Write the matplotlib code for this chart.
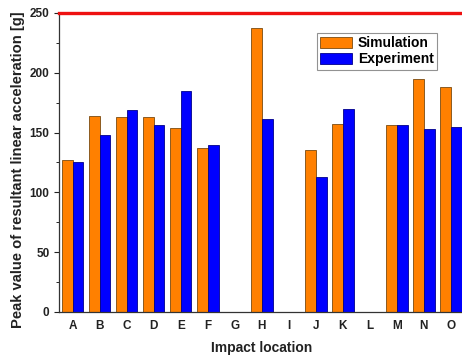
import numpy as np
import matplotlib
matplotlib.use("Agg")
import matplotlib.pyplot as plt
from matplotlib.ticker import MultipleLocator

plt.rcParams['font.family'] = ['Liberation Sans', 'DejaVu Sans']
plt.rcParams['font.weight'] = 'bold'

locations = ["A", "B", "C", "D", "E", "F", "G", "H", "I", "J", "K", "L", "M", "N", "O"]
simulation = [127, 164, 163, 163, 154, 137, np.nan, 237.5, np.nan, 135, 157, np.nan, 156, 195, 188]
experiment = [125.5, 148, 168.5, 156, 185, 139.5, np.nan, 161, np.nan, 112.5, 170, np.nan, 156.5, 153, 154.5]
limit = 250

fig = plt.figure(figsize=(4.62, 3.58), dpi=100)
ax = fig.add_axes([0.128, 0.1285, 0.877, 0.8355])

x = np.arange(len(locations))
w = 0.4
ax.bar(x - w / 2, simulation, w, color="#ff8000", edgecolor="#7a4a10", linewidth=0.6, label="Simulation")
ax.bar(x + w / 2, experiment, w, color="#0000ff", edgecolor="#00008b", linewidth=0.6, label="Experiment")
ax.axhline(limit, color="#ee1111", linewidth=2.4, clip_on=False, zorder=5)

ax.set_xlim(-0.5, len(locations) - 0.5)
ax.set_ylim(0, 250)
ax.yaxis.set_major_locator(MultipleLocator(50))
ax.yaxis.set_minor_locator(MultipleLocator(25))
ax.set_xticks(x)
ax.set_xticklabels(locations)
ax.tick_params(axis="x", length=0, pad=6, labelsize=8.5, colors="#222222")
ax.tick_params(axis="y", which="major", direction="out", length=3.5, labelsize=8.5, colors="#222222")
ax.tick_params(axis="y", which="minor", direction="out", length=2)
ax.spines["top"].set_visible(False)
ax.spines["right"].set_visible(False)
for s in ["left", "bottom"]:
    ax.spines[s].set_color("#333333")
    ax.spines[s].set_linewidth(0.9)

ax.set_xlabel("Impact location", fontsize=10, fontweight="bold", color="#222222", labelpad=6)
ax.set_ylabel("Peak value of resultant linear acceleration [g]", fontsize=10.6,
              fontweight="bold", color="#222222", labelpad=3)
ax.yaxis.label.set_y(0.477)

leg = ax.legend(loc="upper left", bbox_to_anchor=(0.636, 0.933), fontsize=10, frameon=True,
                fancybox=False, edgecolor="#777777", handlelength=2.3, handleheight=0.9,
                borderpad=0.25, labelspacing=0.15, handletextpad=0.4, borderaxespad=0)
leg.get_frame().set_linewidth(0.8)

fig.savefig("out.png", dpi=100)
